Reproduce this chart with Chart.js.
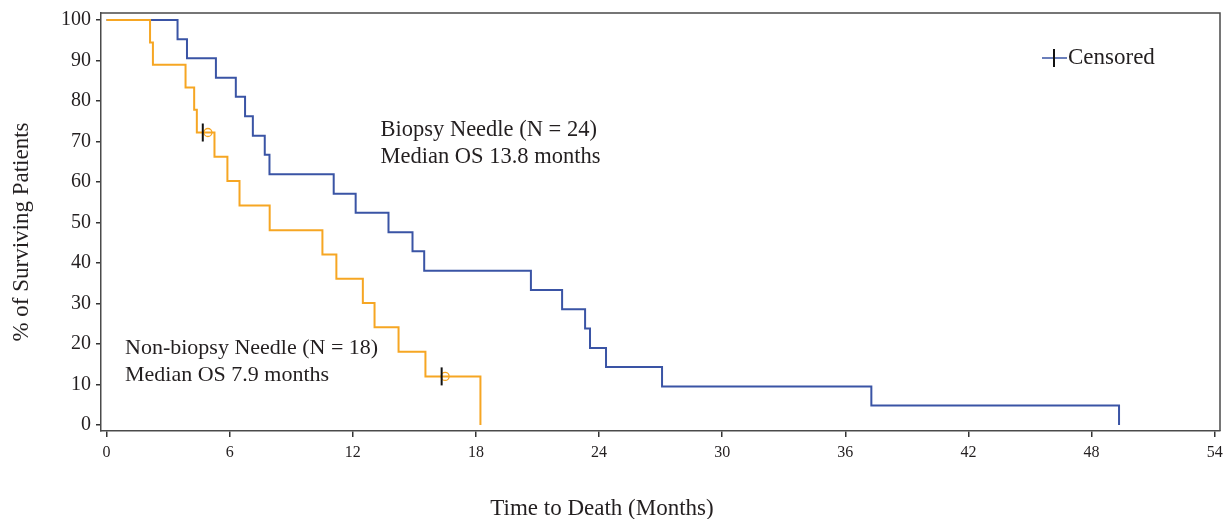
<!DOCTYPE html>
<html><head><meta charset="utf-8">
<script src="https://cdn.jsdelivr.net/npm/chart.js@4.4.1/dist/chart.umd.min.js"></script>
<style>html,body{margin:0;padding:0;background:#fff}#wrap{width:1231px;height:519px;position:relative}canvas{display:block}</style>
</head><body><div id="wrap"><canvas id="c" width="1231" height="519" style="width:1231px;height:519px"></canvas></div>
<script>
// ---- data ----
const biopsyTimes = [0, 3.46, 3.92, 5.33, 6.30, 6.75, 7.13, 7.71, 7.94, 11.07, 12.14, 13.74, 14.91, 15.48, 20.68, 22.20, 23.32, 23.56, 24.34, 27.07, 37.27, 49.34];
const biopsySurv  = [100, 95.2, 90.5, 85.7, 81.0, 76.2, 71.4, 66.7, 61.9, 57.1, 52.4, 47.6, 42.9, 38.1, 33.3, 28.6, 23.8, 19.0, 14.3, 9.5, 4.8, 0];
const nonBiopsyTimes = [0, 2.12, 2.26, 3.85, 4.27, 4.40, 5.26, 5.89, 6.48, 7.95, 10.52, 11.20, 12.49, 13.06, 14.23, 15.54, 18.22];
const nonBiopsySurv  = [100, 94.4, 88.9, 83.3, 77.8, 72.2, 66.2, 60.2, 54.2, 48.1, 42.1, 36.1, 30.1, 24.1, 18.1, 12.0, 0];
const censorTimes = [4.69, 16.33];
const censorSurv  = [72.2, 12.0];
const censorCircleTimes = [4.94, 16.50];
const xTickValues = [0, 6, 12, 18, 24, 30, 36, 42, 48, 54];
const yTickValues = [0, 10, 20, 30, 40, 50, 60, 70, 80, 90, 100];
const xTitle = 'Time to Death (Months)';
const yTitle = '% of Surviving Patients';
const biopsyLabel = ['Biopsy Needle (N = 24)', 'Median OS 13.8 months'];
const nonBiopsyLabel = ['Non-biopsy Needle (N = 18)', 'Median OS 7.9 months'];
const legendLabel = 'Censored';

const BLUE = '#3A54A5';
const ORANGE = '#F6A623';
const INK = '#231F20';
const FONT = '"Liberation Serif", "Times New Roman", serif';

const toPts = (xs, ys) => xs.map((x, i) => ({x: x, y: ys[i]}));

const extras = {
  id: 'extras',
  afterDraw(chart) {
    const {ctx, chartArea: a, scales: {x, y}} = chart;
    ctx.save();
    // frame top/right
    ctx.strokeStyle = '#4a4a4a';
    ctx.lineWidth = 1.5;
    ctx.beginPath();
    ctx.moveTo(a.left, a.top); ctx.lineTo(a.right, a.top); ctx.lineTo(a.right, a.bottom);
    ctx.stroke();
    // annotations
    ctx.fillStyle = INK;
    ctx.font = '22.5px ' + FONT;
    ctx.textAlign = 'left';
    ctx.textBaseline = 'middle';
    ctx.fillText(biopsyLabel[0], x.getPixelForValue(13.35), y.getPixelForValue(72.8));
    ctx.fillText(biopsyLabel[1], x.getPixelForValue(13.35), y.getPixelForValue(66.2));
    ctx.font = '22px ' + FONT;
    ctx.fillText(nonBiopsyLabel[0], x.getPixelForValue(0.9), y.getPixelForValue(19.0));
    ctx.fillText(nonBiopsyLabel[1], x.getPixelForValue(0.9), y.getPixelForValue(12.2));
    // legend
    const ly = 58;
    ctx.strokeStyle = BLUE; ctx.lineWidth = 1.5;
    ctx.beginPath(); ctx.moveTo(1042, ly); ctx.lineTo(1067, ly); ctx.stroke();
    ctx.strokeStyle = '#111'; ctx.lineWidth = 2;
    ctx.beginPath(); ctx.moveTo(1054, ly - 9); ctx.lineTo(1054, ly + 9); ctx.stroke();
    ctx.font = '23px ' + FONT;
    ctx.fillText(legendLabel, 1068, ly);
    // axis titles
    ctx.font = '23px ' + FONT;
    ctx.textAlign = 'center';
    ctx.fillText(xTitle, 602, 509);
    ctx.translate(22, 232);
    ctx.rotate(-Math.PI / 2);
    ctx.fillText(yTitle, 0, 0);
    ctx.restore();
  }
};

new Chart(document.getElementById('c'), {
  type: 'line',
  data: {
    datasets: [
      {label: 'Censored', type: 'scatter', data: toPts(censorTimes, censorSurv), pointStyle: 'line', rotation: 90,
       radius: 9, borderColor: '#111', borderWidth: 2, showLine: false, order: 0},
      {label: 'circles', type: 'scatter', data: toPts(censorCircleTimes, censorSurv), pointStyle: 'circle',
       radius: 4, borderColor: ORANGE, backgroundColor: 'rgba(0,0,0,0)', borderWidth: 1.3, showLine: false, order: 1},
      {label: 'Non-biopsy Needle', data: toPts(nonBiopsyTimes, nonBiopsySurv), stepped: true, borderColor: ORANGE,
       borderWidth: 2, pointRadius: 0, fill: false, order: 2},
      {label: 'Biopsy Needle', data: toPts(biopsyTimes, biopsySurv), stepped: true, borderColor: BLUE,
       borderWidth: 2, pointRadius: 0, fill: false, order: 3}
    ]
  },
  options: {
    responsive: false,
    animation: false,
    devicePixelRatio: 1,
    layout: {padding: {top: 13, right: 9, left: 0, bottom: 0}},
    plugins: {legend: {display: false}, tooltip: {enabled: false}},
    scales: {
      x: {
        type: 'linear', min: -0.27, max: 54.26,
        afterBuildTicks: s => { s.ticks = xTickValues.map(v => ({value: v})); },
        afterFit: s => { s.height = 88; s.paddingLeft = 0; s.paddingRight = 0; },
        ticks: {font: {family: FONT, size: 16}, color: INK, padding: 6, maxRotation: 0},
        grid: {drawOnChartArea: false, drawTicks: true, tickLength: 6, color: '#333', lineWidth: 1.5},
        border: {display: true, color: '#4a4a4a', width: 1.5}
      },
      y: {
        type: 'linear', min: -1.48, max: 101.7,
        afterBuildTicks: s => { s.ticks = yTickValues.map(v => ({value: v})); },
        afterFit: s => { s.width = 101; s.paddingTop = 0; s.paddingBottom = 0; },
        ticks: {font: {family: FONT, size: 20}, color: INK, padding: 5},
        grid: {drawOnChartArea: false, drawTicks: true, tickLength: 5, color: '#333', lineWidth: 1.5},
        border: {display: true, color: '#4a4a4a', width: 1.5}
      }
    }
  },
  plugins: [extras]
});
</script></body></html>
